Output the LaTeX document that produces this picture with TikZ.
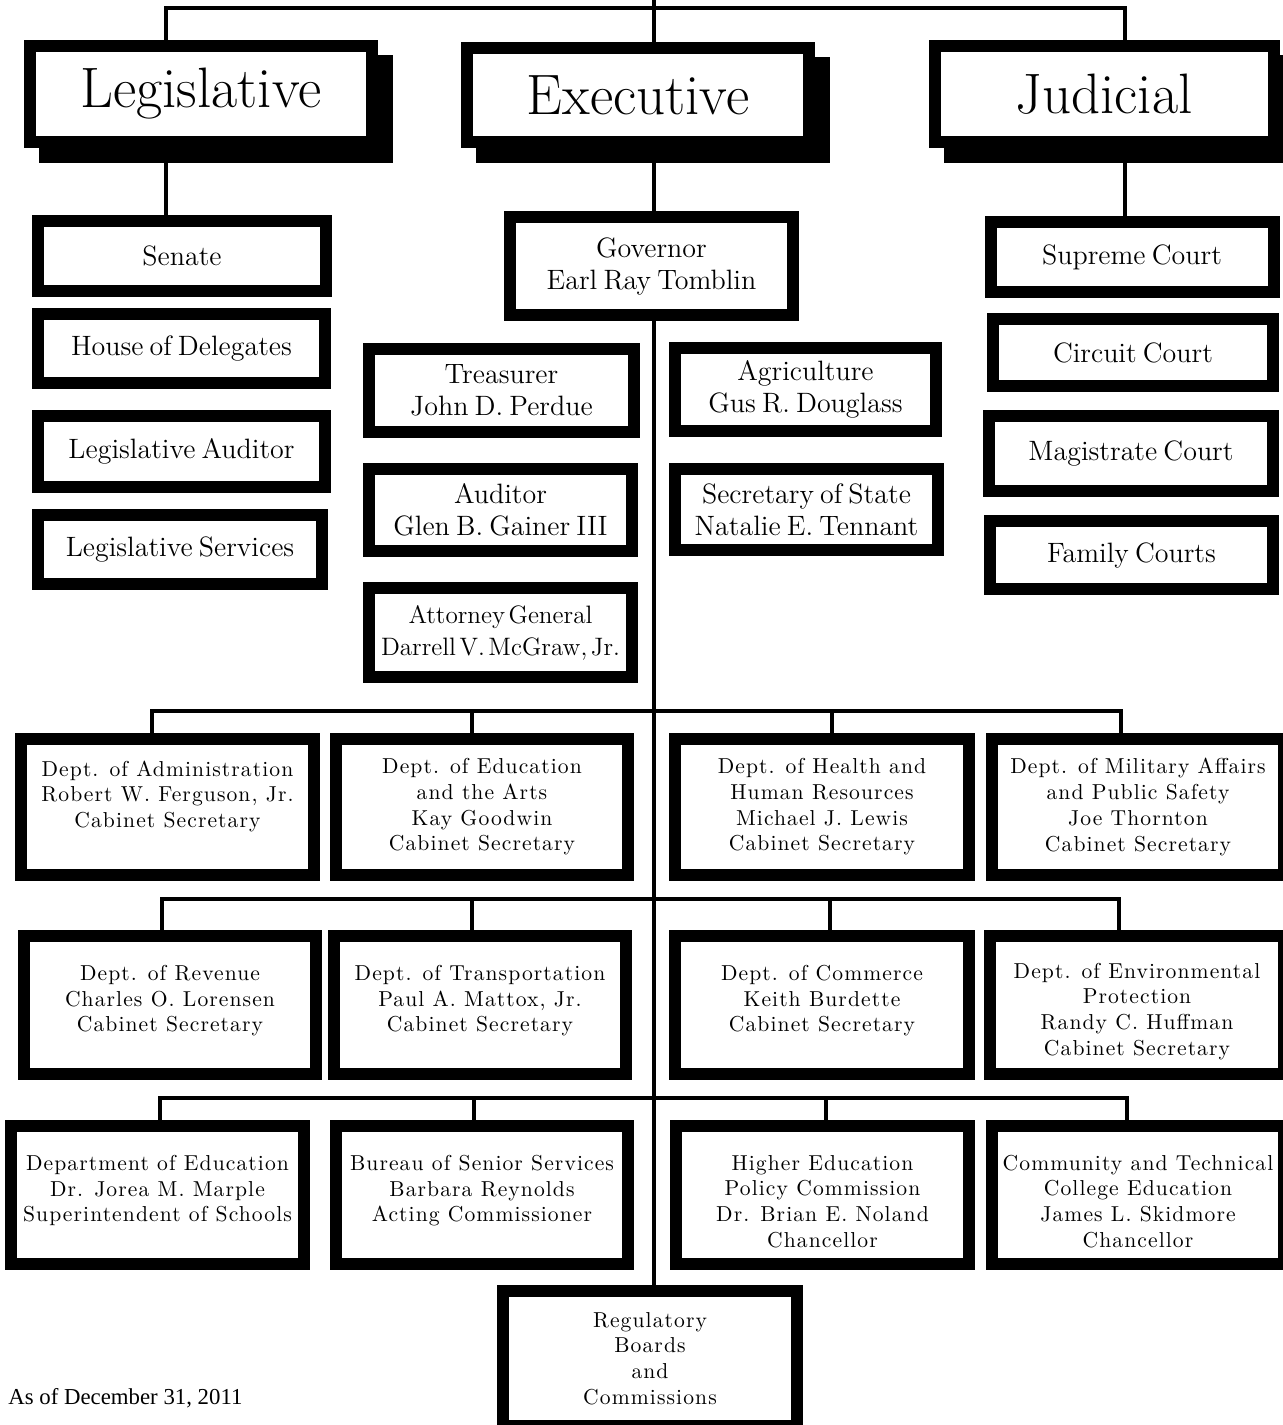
\documentclass[tikz,border=0pt]{standalone}
\usepackage{fontspec}
\usepackage{tikz}
\usetikzlibrary{backgrounds}
\newfontfamily\notefont{Liberation Serif}
\newfontfamily\deptfont[Extension=.otf, LetterSpace=5]{lmroman10-regular}

% type used in the boxes
\newcommand\branchtype{\fontsize{28.5}{32}\selectfont}
\newcommand\officetype{\fontsize{14}{16}\selectfont\spaceskip=.22em\relax}
\newcommand\tighttype{\fontsize{12.6}{16}\selectfont\spaceskip=.14em\relax}
\newcommand\depttype{\deptfont\fontsize{10.8}{12.85}\selectfont}
\newcommand\notetype{\notefont\fontsize{11.4}{13}\selectfont}
\newcommand\lowtext{\rule{0pt}{14pt}}

\tikzset{
    orgbox/.style={draw, line width=6pt, fill=white, align=center,
        inner sep=0pt},
    branchbox/.style={orgbox, preaction={draw=black, fill=black,
        transform canvas={shift={(7.5pt,-7.5pt)}}}, font=\branchtype},
    officebox/.style={orgbox, font=\officetype},
    deptbox/.style={orgbox, font=\depttype},
    wire/.style={line width=2.2pt, line join=miter}
}

\begin{document}
\begin{tikzpicture}[x=0.5pt, y=-0.5pt]
        \useasboundingbox (0,0) rectangle (1282,1425);

        % three branches
        \node[branchbox, minimum width=171pt, minimum height=48pt] (leg) at (201,94) {Legislative};
        \node[branchbox, minimum width=171pt, minimum height=47pt] (exe) at (638,95) {Executive};
        \node[branchbox, minimum width=169.5pt, minimum height=48pt] (jud) at (1104,94) {Judicial};

        % legislative
        \node[officebox, minimum width=144pt, minimum height=35pt] (sen) at (182,256) {Senate};
        \node[officebox, minimum width=143.5pt, minimum height=34.5pt] (hod) at (181.5,348.5) {House of Delegates};
        \node[officebox, minimum width=143.5pt, minimum height=35.5pt] (lau) at (181.5,451.5) {Legislative Auditor};
        \node[officebox, minimum width=142pt, minimum height=34.5pt] (lse) at (180,549.5) {Legislative Services};

        % judicial
        \node[officebox, minimum width=141.5pt, minimum height=35pt] (sup) at (1132,257) {Supreme Court};
        \node[officebox, minimum width=140pt, minimum height=33.5pt] (cir) at (1133,352.5) {Circuit Court};
        \node[officebox, minimum width=142pt, minimum height=37.5pt] (mag) at (1131,453.5) {Magistrate Court};
        \node[officebox, minimum width=141.5pt, minimum height=34pt] (fam) at (1131.5,555) {Family Courts};

        % executive officers
        \node[officebox, minimum width=141.5pt, minimum height=49pt] (gov) at (651.5,266) {Governor\\Earl Ray Tomblin};
        \node[officebox, minimum width=132.5pt, minimum height=41.5pt] (tre) at (501.5,390.5) {Treasurer\\John D. Perdue};
        \node[officebox, minimum width=130.5pt, minimum height=41.5pt] (agr) at (805.5,389.5) {Agriculture\\Gus R. Douglass};
        \node[officebox, minimum width=131.5pt, minimum height=41pt] (aud) at (500.5,510) {Auditor\\Glen B. Gainer III};
        \node[officebox, minimum width=131.5pt, minimum height=40.5pt] (sos) at (806.5,509.5) {Secretary of State\\Natalie E. Tennant};
        \node[officebox, font=\tighttype, minimum width=131.5pt, minimum height=44.5pt] (atg) at (500.5,632.5) {Attorney General\\Darrell V. McGraw, Jr.};

        % departments
        \node[deptbox, minimum width=146.5pt, minimum height=68pt] (adm) at (167.5,807) {Dept. of Administration\\Robert W. Ferguson, Jr.\\Cabinet Secretary\\~};
        \node[deptbox, minimum width=146pt, minimum height=68pt] (eda) at (482,807) {Dept. of Education\\and the Arts\\Kay Goodwin\\Cabinet Secretary};
        \node[deptbox, minimum width=147pt, minimum height=68pt] (hhr) at (822,807) {Dept. of Health and\\Human Resources\\Michael J. Lewis\\Cabinet Secretary};
        \node[deptbox, minimum width=146pt, minimum height=68pt] (mil) at (1138,807) {Dept. of Military Affairs\\and Public Safety\\Joe Thornton\\Cabinet Secretary};

        \node[deptbox, minimum width=146pt, minimum height=69pt] (rev) at (170,1005) {\lowtext Dept. of Revenue\\Charles O. Lorensen\\Cabinet Secretary\\~};
        \node[deptbox, minimum width=146pt, minimum height=69pt] (tra) at (480,1005) {\lowtext Dept. of Transportation\\Paul A. Mattox, Jr.\\Cabinet Secretary\\~};
        \node[deptbox, minimum width=147pt, minimum height=69pt] (com) at (822,1005) {\lowtext Dept. of Commerce\\Keith Burdette\\Cabinet Secretary\\~};
        \node[deptbox, minimum width=147pt, minimum height=69pt] (env) at (1137,1005) {\lowtext Dept. of Environmental\\Protection\\Randy C. Huffman\\Cabinet Secretary};

        \node[deptbox, minimum width=146.5pt, minimum height=69pt] (doe) at (157.5,1195) {\lowtext Department of Education\\Dr. Jorea M. Marple\\Superintendent of Schools\\~};
        \node[deptbox, minimum width=146pt, minimum height=69pt] (bss) at (482,1195) {\lowtext Bureau of Senior Services\\Barbara Reynolds\\Acting Commissioner\\~};
        \node[deptbox, minimum width=146.5pt, minimum height=69pt] (hec) at (822.5,1195) {\lowtext Higher Education\\Policy Commission\\Dr. Brian E. Noland\\Chancellor};
        \node[deptbox, minimum width=146pt, minimum height=69pt] (ctc) at (1138,1195) {\lowtext Community and Technical\\College Education\\James L. Skidmore\\Chancellor};

        \node[deptbox, minimum width=147pt, minimum height=67.5pt] (reg) at (650,1358.5) {Regulatory\\Boards\\and\\Commissions};

        \node[anchor=base west, inner sep=0pt, font=\notetype] (date) at (8,1404) {As of December 31, 2011};

        % connectors
        \coordinate (top) at (654,0);
        \coordinate (l0) at (166,8);
        \coordinate (j0) at (1125,8);
        \coordinate (b1a) at (152,711);
        \coordinate (b1b) at (472,711);
        \coordinate (b1c) at (832,711);
        \coordinate (b1d) at (1121,711);
        \coordinate (b2a) at (162,899);
        \coordinate (b2b) at (472,899);
        \coordinate (b2c) at (830,899);
        \coordinate (b2d) at (1119,899);
        \coordinate (b3a) at (160,1098);
        \coordinate (b3b) at (474,1098);
        \coordinate (b3c) at (826,1098);
        \coordinate (b3d) at (1127,1098);

        \begin{scope}[on background layer]
            \draw[wire] (leg.north -| l0) -- (l0) -- (j0) -- (jud.north -| j0);
            \draw[wire] (top) -- (exe.north -| top);
            \draw[wire] (leg.south -| l0) -- (sen.north -| l0);
            \draw[wire] (exe.south -| top) -- (gov.north -| top);
            \draw[wire] (jud.south -| j0) -- (sup.north -| j0);
            \draw[wire] (gov.south -| top) -- (reg.north -| top);

            \draw[wire] (adm.north -| b1a) -- (b1a) -- (b1d) -- (mil.north -| b1d);
            \draw[wire] (b1b) -- (eda.north -| b1b);
            \draw[wire] (b1c) -- (hhr.north -| b1c);

            \draw[wire] (rev.north -| b2a) -- (b2a) -- (b2d) -- (env.north -| b2d);
            \draw[wire] (b2b) -- (tra.north -| b2b);
            \draw[wire] (b2c) -- (com.north -| b2c);

            \draw[wire] (doe.north -| b3a) -- (b3a) -- (b3d) -- (ctc.north -| b3d);
            \draw[wire] (b3b) -- (bss.north -| b3b);
            \draw[wire] (b3c) -- (hec.north -| b3c);
        \end{scope}
    \end{tikzpicture}
\end{document}
